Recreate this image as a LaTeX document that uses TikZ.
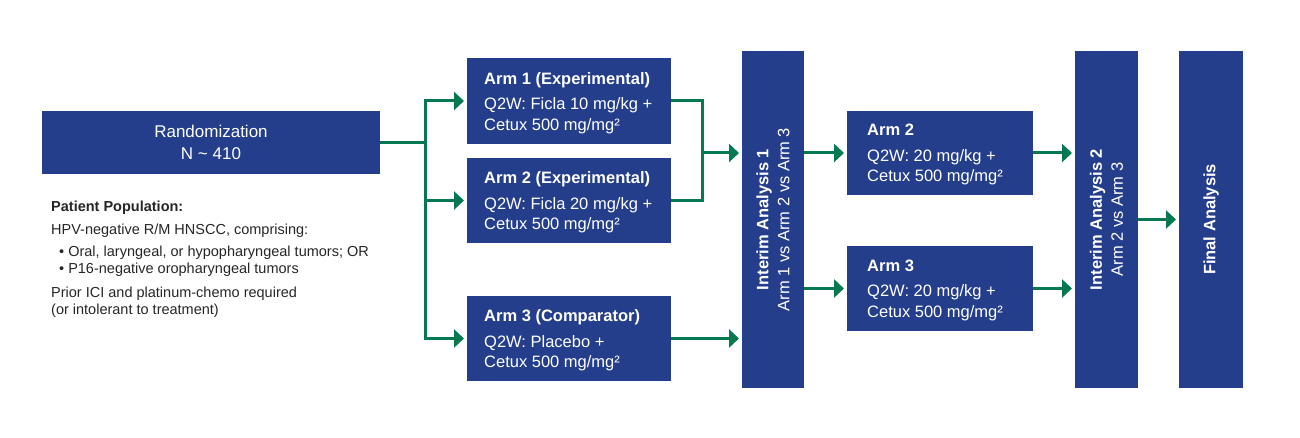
\documentclass[tikz,border=0pt]{standalone}
\usepackage{fontspec}
\setmainfont{Liberation Sans}
\usetikzlibrary{arrows.meta,calc}
\definecolor{boxblue}{RGB}{36,62,140}
\definecolor{arrgreen}{RGB}{4,121,80}
\begin{document}
\begin{tikzpicture}[x=1pt,y=-1pt,
  box/.style={fill=boxblue, draw=none, inner sep=0pt, outer sep=0pt, text=white},
  armbox/.style={box, minimum width=204pt, minimum height=86pt, anchor=north west},
  rarmbox/.style={box, minimum width=186pt, minimum height=85pt, anchor=north west},
  armtxt/.style={anchor=west, inner sep=0pt, text=white, align=left, font=\fontsize{16.5}{20.5}\selectfont},
  tallbox/.style={box, minimum width=63pt, minimum height=337pt},
  rottxt/.style={rotate=90, text=white, align=center, inner sep=0pt, font=\fontsize{16.5}{21}\selectfont},
  ptxt/.style={anchor=base west, inner sep=0pt, text=black!85, font=\fontsize{14.5}{17}\selectfont},
  ln/.style={draw=arrgreen, line width=3pt},
  arr/.style={draw=arrgreen, line width=3pt, shorten >=3pt, -{Triangle[length=10pt,width=18pt]}}
]
\useasboundingbox (0,0) rectangle (1300,438);

% Randomization
\node[box, minimum width=338pt, minimum height=63pt, anchor=north west, align=center,
  font=\fontsize{17}{22}\selectfont] (rand) at (42,111) {Randomization\\N \textasciitilde{} 410};

% Patient population text
\node[ptxt] (p1) at (51,212) {\textbf{Patient Population:}};
\node[ptxt] (p2) at (51,235) {HPV-negative R/M HNSCC, comprising:};
\node[ptxt] (p3) at (59,256) {•\hspace{4pt}Oral, laryngeal, or hypopharyngeal tumors; OR};
\node[ptxt] (p4) at (59,273) {•\hspace{4pt}P16-negative oropharyngeal tumors};
\node[ptxt] (p5) at (51,297) {Prior ICI and platinum-chemo required};
\node[ptxt] (p6) at (51,314) {(or intolerant to treatment)};

% Arms
\node[armbox] (arm1) at (467,58) {};
\node[armtxt] (arm1t) at ([xshift=17pt,yshift=-2pt]arm1.west) {\textbf{Arm 1 (Experimental)}\\[5pt]Q2W: Ficla 10 mg/kg +\\Cetux 500 mg/mg²};
\node[armbox, minimum height=85pt] (arm2) at (467,158) {};
\node[armtxt] (arm2t) at ([xshift=17pt,yshift=-2pt]arm2.west) {\textbf{Arm 2 (Experimental)}\\[5pt]Q2W: Ficla 20 mg/kg +\\Cetux 500 mg/mg²};
\node[armbox, minimum height=85pt] (arm3) at (467,296) {};
\node[armtxt] (arm3t) at ([xshift=17pt,yshift=-2pt]arm3.west) {\textbf{Arm 3 (Comparator)}\\[5pt]Q2W: Placebo +\\Cetux 500 mg/mg²};

% Interim 1
\node[tallbox, minimum width=62pt] (i1) at (773,219.5) {};
\node[rottxt] (i1t) at (i1.center) {\textbf{Interim Analysis 1}\\Arm 1 vs Arm 2 vs Arm 3};

% Right arms
\node[rarmbox, minimum height=84pt] (ra2) at (847,111) {};
\node[armtxt] (ra2t) at ([xshift=20pt,yshift=-1.5pt]ra2.west) {\textbf{Arm 2}\\[5pt]Q2W: 20 mg/kg +\\Cetux 500 mg/mg²};
\node[rarmbox] (ra3) at (847,246) {};
\node[armtxt] (ra3t) at ([xshift=20pt,yshift=-1.5pt]ra3.west) {\textbf{Arm 3}\\[5pt]Q2W: 20 mg/kg +\\Cetux 500 mg/mg²};

% Interim 2 and final
\node[tallbox] (i2) at (1106.5,219.5) {};
\node[rottxt] (i2t) at (i2.center) {\textbf{Interim Analysis 2}\\Arm 2 vs Arm 3};
\node[tallbox, minimum width=64pt] (fin) at (1211,219.5) {};
\node[rottxt] (fint) at (fin.center) {\textbf{Final Analysis}};

% Connectors
\coordinate (br) at (425,142.5);
\coordinate (bt) at (425,101);
\coordinate (bb) at (425,338.5);
\draw[ln] (rand.east) -- (br);
\draw[ln, line cap=rect] (bt) -- (bb);
\draw[arr] (bt) -- (arm1.west);
\draw[arr] (br |- arm2.west) -- (arm2.west);
\draw[arr] (bb) -- (arm3.west);

\coordinate (mg) at (702,153);
\draw[ln, line join=miter] (arm1.east) -| (mg |- arm2.east) -- (arm2.east);
\draw[arr] (mg) -- (mg -| i1.west);
\draw[arr] (arm3.east) -- (arm3.east -| i1.west);

\draw[arr] (i1.east |- ra2.west) -- (ra2.west);
\draw[arr] (i1.east |- ra3.west) -- (ra3.west);
\draw[arr] (ra2.east) -- (ra2.east -| i2.west);
\draw[arr] (ra3.east) -- (ra3.east -| i2.west);
\draw[arr] (i2.east) -- (fin.west);
\end{tikzpicture}
\end{document}
